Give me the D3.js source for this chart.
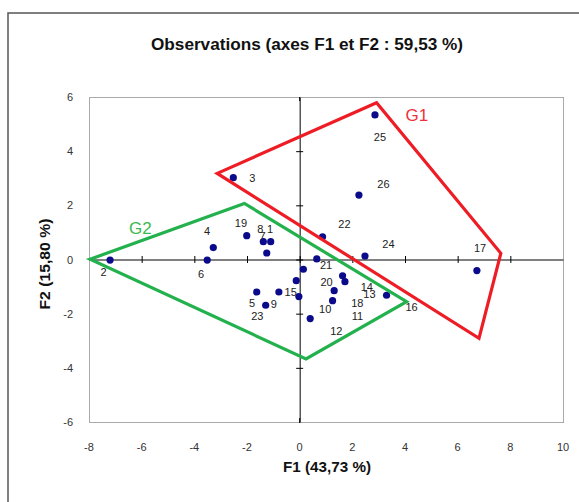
<!DOCTYPE html>
<html><head><meta charset="utf-8">
<script src="https://cdn.jsdelivr.net/npm/d3@7"></script>
<style>body{margin:0;background:#fff;}svg{display:block;font-family:"Liberation Sans",Arial,sans-serif;}</style>
</head><body>
<svg id="c" width="579" height="502"></svg>
<script>
const obsLabels = ["1","2","3","4","5","6","7","8","9","10","11","12","13","14","15","16","17","18","19","20","21","22","23","24","25","26"];
const obsX = [-1.10,-7.20,-2.52,-3.28,-1.63,-3.51,-1.38,-1.25,-1.29,1.25,1.31,0.40,1.72,1.63,-0.13,3.30,6.73,-0.03,-2.01,0.14,0.65,0.87,-0.79,2.48,2.86,2.25];
const obsY = [0.66,-0.02,3.02,0.44,-1.20,-0.02,0.66,0.24,-1.69,-1.52,-1.15,-2.18,-0.82,-0.60,-0.78,-1.32,-0.41,-1.37,0.88,-0.36,0.02,0.84,-1.20,0.13,5.34,2.38];
// label anchor positions (data units)
const labelX = [-1.12,-7.45,-1.80,-3.52,-1.81,-3.74,-1.41,-1.49,-0.98,0.97,2.19,1.39,2.65,2.55,-0.34,4.25,6.85,2.19,-2.23,1.02,1.00,1.70,-1.61,3.37,3.05,3.18];
const labelY = [1.12,-0.45,3.02,1.05,-1.59,-0.53,0.87,1.12,-1.66,-1.84,-2.07,-2.63,-1.28,-1.00,-1.21,-1.74,0.44,-1.59,1.36,-0.82,-0.20,1.31,-2.08,0.56,4.51,2.78];
const groupNames = ["G1","G2"];
const g1X = [-3.13,2.92,7.64,6.81];
const g1Y = [3.18,5.79,0.23,-2.91];
const g2X = [-7.96,-2.10,4.06,0.24];
const g2Y = [0.01,2.07,-1.56,-3.67];
const groupLabelX = [4.45,-6.05];
const groupLabelY = [5.35,1.15];
const xTicks = [-8,-6,-4,-2,0,2,4,6,8,10];
const yTicks = [-6,-4,-2,0,2,4,6];
const titleText = "Observations (axes F1 et F2 : 59,53 %)";
const xTitle = "F1 (43,73 %)";
const yTitle = "F2 (15,80 %)";

const svg = d3.select("#c");
const x = d3.scaleLinear().domain([-8,10]).range([89,563]);
const y = d3.scaleLinear().domain([-6,6]).range([422,97]);

// outer frame
svg.append("rect").attr("x",8).attr("y",13).attr("width",600).attr("height",520)
  .attr("fill","none").attr("stroke","#555").attr("stroke-width",1.5);

svg.append("text").attr("x",307).attr("y",50).attr("text-anchor","middle")
  .attr("font-size",16).attr("font-weight","bold").attr("fill","#111")
  .attr("textLength",312).attr("lengthAdjust","spacingAndGlyphs").text(titleText);

// plot frame
svg.append("rect").attr("x",x(-8)+0.5).attr("y",y(6)+0.5).attr("width",x(10)-x(-8)).attr("height",y(-6)-y(6))
  .attr("fill","none").attr("stroke","#aaa").attr("stroke-width",1);

// axes through zero
const xa = svg.append("g").attr("transform",`translate(0,${y(0)})`)
  .call(d3.axisBottom(x).tickValues(xTicks.filter(d=>d>-8&&d<10)).tickSize(0).tickFormat(""));
xa.select(".domain").attr("stroke","#000");
xa.selectAll(".tick line").attr("y1",-3.5).attr("y2",3.5).attr("stroke","#000");
const ya = svg.append("g").attr("transform",`translate(${x(0)},0)`)
  .call(d3.axisLeft(y).tickValues(yTicks.filter(d=>d>-6&&d<6)).tickSize(0).tickFormat(""));
ya.select(".domain").attr("stroke","#000");
ya.selectAll(".tick line").attr("x1",-3.5).attr("x2",3.5).attr("stroke","#000");
// tick marks at frame edges
svg.append("line").attr("x1",x(0)).attr("x2",x(0)).attr("y1",y(-6)-4).attr("y2",y(-6)+1).attr("stroke","#000");
svg.append("line").attr("x1",x(0)).attr("x2",x(0)).attr("y1",y(6)).attr("y2",y(6)+4).attr("stroke","#000");
svg.append("line").attr("x1",x(-8)).attr("x2",x(-8)+4).attr("y1",y(0)).attr("y2",y(0)).attr("stroke","#000");

// tick labels
svg.append("g").selectAll("text").data(xTicks).join("text")
  .attr("x",d=>x(d)).attr("y",451).attr("text-anchor","middle").attr("font-size",11).attr("fill","#333").text(d=>d);
svg.append("g").selectAll("text").data(yTicks).join("text")
  .attr("x",73).attr("y",d=>y(d)+4).attr("text-anchor","end").attr("font-size",11).attr("fill","#333").text(d=>d);

svg.append("text").attr("x",327).attr("y",472).attr("text-anchor","middle").attr("font-size",14)
  .attr("font-weight","bold").attr("fill","#111").attr("textLength",88).attr("lengthAdjust","spacingAndGlyphs").text(xTitle);
svg.append("text").attr("transform",`translate(50,264) rotate(-90)`).attr("text-anchor","middle").attr("font-size",14)
  .attr("font-weight","bold").attr("fill","#111").attr("textLength",91).attr("lengthAdjust","spacingAndGlyphs").text(yTitle);

// polygons
const line = d3.line().x(d=>x(d[0])).y(d=>y(d[1])).curve(d3.curveLinearClosed);
const poly1 = g1X.map((v,i)=>[v,g1Y[i]]);
const poly2 = g2X.map((v,i)=>[v,g2Y[i]]);

// points
svg.append("g").selectAll("circle").data(obsX).join("circle")
  .attr("cx",d=>x(d)).attr("cy",(d,i)=>y(obsY[i])).attr("r",3.6).attr("fill","#0a0a8a");

svg.append("path").attr("d",line(poly1)).attr("fill","none").attr("stroke","#ee1c24").attr("stroke-width",3.2);
svg.append("path").attr("d",line(poly2)).attr("fill","none").attr("stroke","#22b14c").attr("stroke-width",3.2);

// point labels
svg.append("g").selectAll("text").data(obsLabels).join("text")
  .attr("x",(d,i)=>x(labelX[i])).attr("y",(d,i)=>y(labelY[i])+4).attr("text-anchor","middle")
  .attr("font-size",11).attr("fill","#222").text(d=>d);

const gColors = ["#f0303c","#3cb84e"];
svg.append("g").selectAll("text").data(groupNames).join("text")
  .attr("x",(d,i)=>x(groupLabelX[i])).attr("y",(d,i)=>y(groupLabelY[i])+6).attr("text-anchor","middle")
  .attr("font-size",17).attr("fill",(d,i)=>gColors[i]).text(d=>d);
</script>
</body></html>
